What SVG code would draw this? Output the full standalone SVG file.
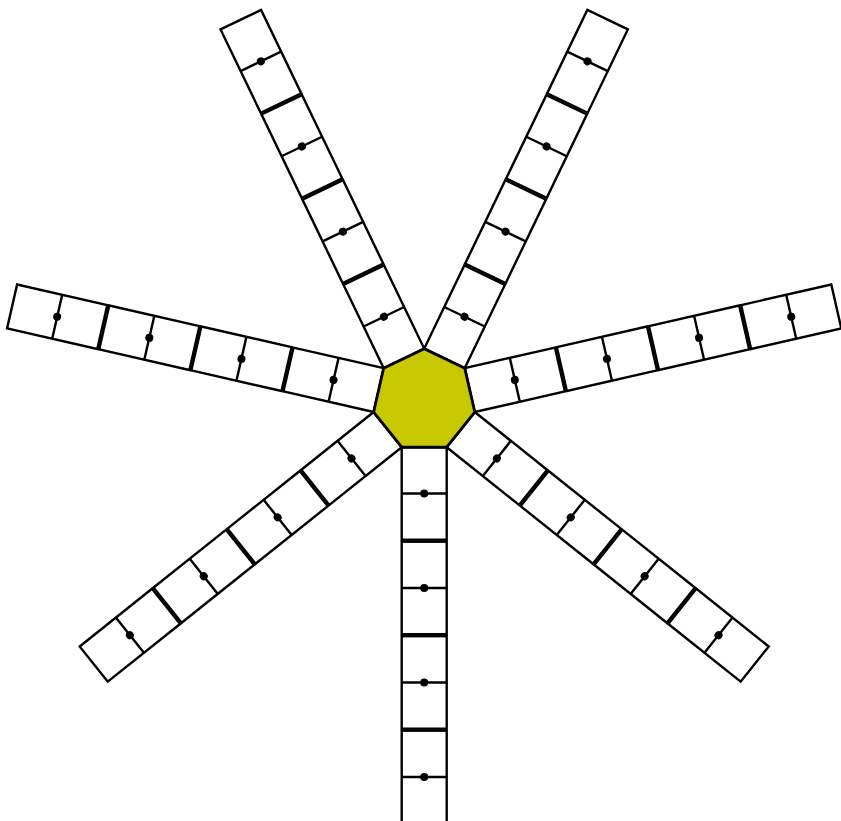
<svg xmlns="http://www.w3.org/2000/svg" xmlns:xlink="http://www.w3.org/1999/xlink" width="841" height="821" viewBox="0 0 841 821">
  <style>
    .unit { fill: #ffffff; stroke: #000000; stroke-width: 2.4; }
    .mid { stroke: #000000; stroke-width: 2.4; }
    .dot { fill: #000000; }
    .hub { fill: #c8c800; stroke: #000000; stroke-width: 2.8; stroke-linejoin: round; }
  </style>
  <defs>
    <g id="armTemplate">
      <rect class="unit" x="-22.5" y="46.7" width="45" height="92.5"/>
      <line class="mid" x1="-22.5" y1="92.95" x2="22.5" y2="92.95"/>
      <circle class="dot" cx="0" cy="92.95" r="4"/>
      <rect class="unit" x="-22.5" y="141.2" width="45" height="92.5"/>
      <line class="mid" x1="-22.5" y1="187.45" x2="22.5" y2="187.45"/>
      <circle class="dot" cx="0" cy="187.45" r="4"/>
      <rect class="unit" x="-22.5" y="235.7" width="45" height="92.5"/>
      <line class="mid" x1="-22.5" y1="281.95" x2="22.5" y2="281.95"/>
      <circle class="dot" cx="0" cy="281.95" r="4"/>
      <rect class="unit" x="-22.5" y="330.2" width="45" height="92.5"/>
      <line class="mid" x1="-22.5" y1="376.45" x2="22.5" y2="376.45"/>
      <circle class="dot" cx="0" cy="376.45" r="4"/>
    </g>
  </defs>
  <g transform="translate(424.2,400.5)">
    <g id="connectors"></g>
    <g id="arm-bottom"><use href="#armTemplate" xlink:href="#armTemplate" transform="rotate(0)"/></g>
    <g id="arm-lower-left"><use href="#armTemplate" xlink:href="#armTemplate" transform="rotate(51.4286)"/></g>
    <g id="arm-left"><use href="#armTemplate" xlink:href="#armTemplate" transform="rotate(102.8571)"/></g>
    <g id="arm-upper-left"><use href="#armTemplate" xlink:href="#armTemplate" transform="rotate(154.2857)"/></g>
    <g id="arm-upper-right"><use href="#armTemplate" xlink:href="#armTemplate" transform="rotate(205.7143)"/></g>
    <g id="arm-right"><use href="#armTemplate" xlink:href="#armTemplate" transform="rotate(257.1429)"/></g>
    <g id="arm-lower-right"><use href="#armTemplate" xlink:href="#armTemplate" transform="rotate(308.5714)"/></g>
    <g id="hub">
      <polygon class="hub" points="0,-51.86 40.55,-32.34 50.56,11.54 22.5,46.73 -22.5,46.73 -50.56,11.54 -40.55,-32.34"/>
    </g>
  </g>
</svg>
